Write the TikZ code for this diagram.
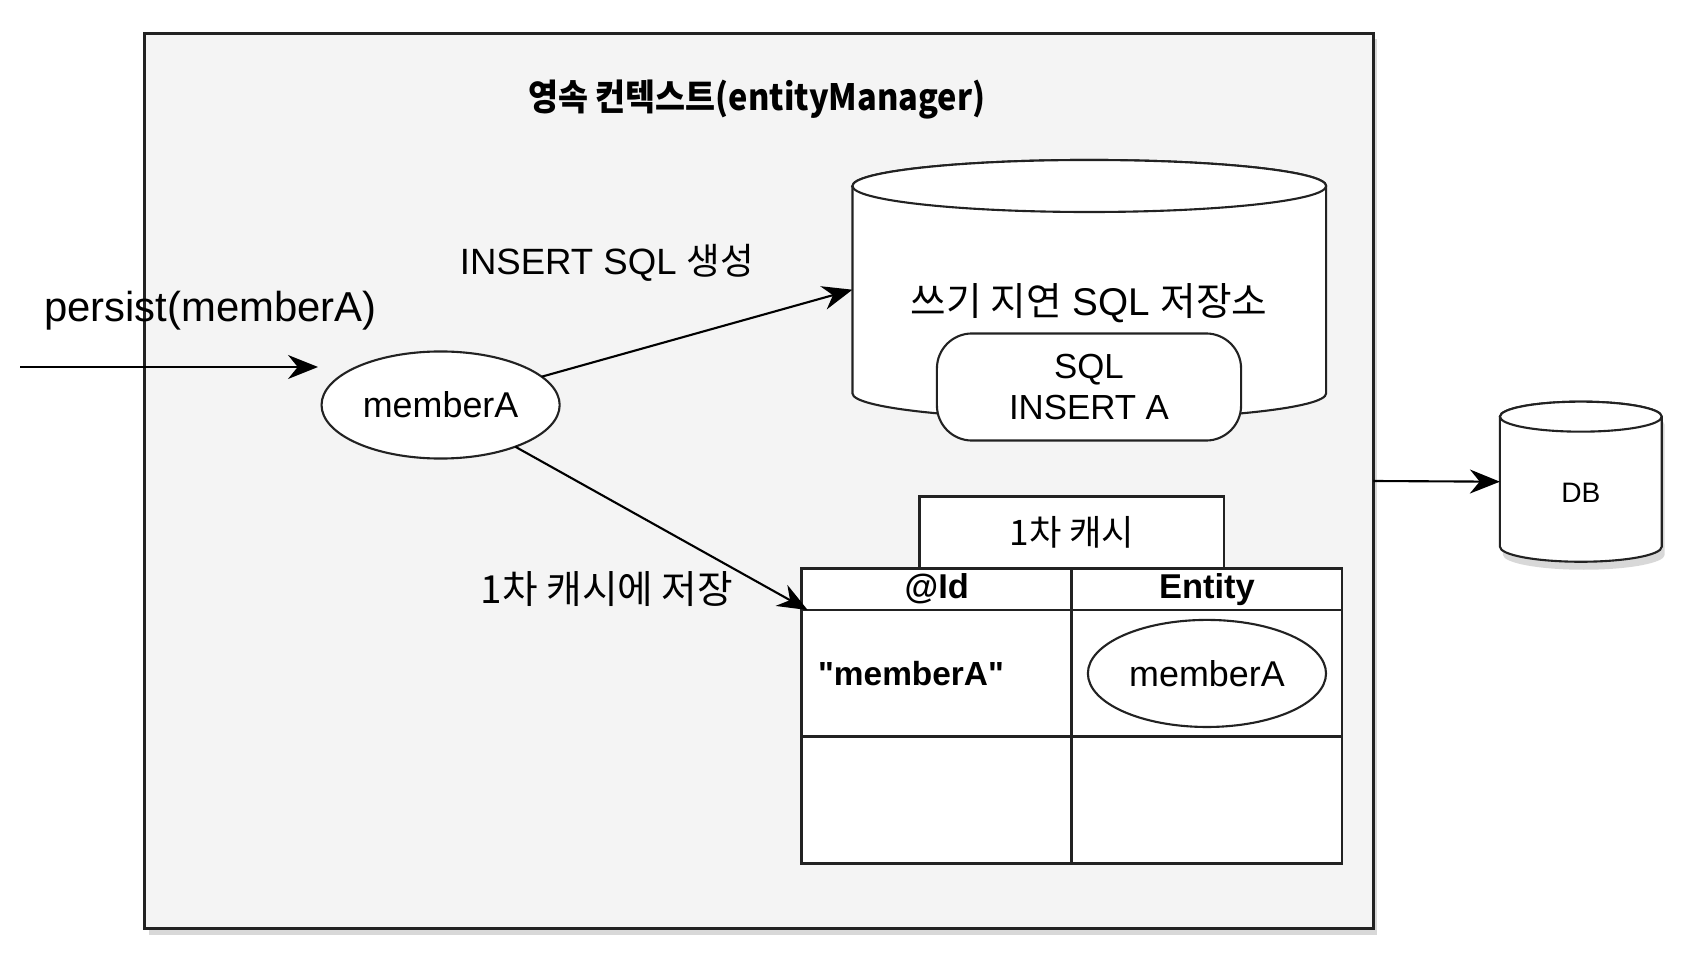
\documentclass[tikz,border=0pt]{standalone}
\usepackage{fontspec}
\setmainfont{Liberation Sans}
\newfontfamily\keyfont{Liberation Sans}
\newfontfamily\kor{Noto Sans CJK KR}
\newfontfamily\kortitle[FakeStretch=0.9]{Noto Sans CJK KR}
\usetikzlibrary{arrows.meta,positioning,shapes.geometric,shadows}
\definecolor{ctxgray}{HTML}{F4F4F4}
\definecolor{linegray}{HTML}{222222}
\tikzset{%
  >={Stealth[width=2.4mm,length=3mm]},
  % Specifications for style of nodes:
         base/.style = {rectangle, draw=linegray, line width=0.6pt,
                        fill=white, inner sep=0pt, outer sep=0pt,
                        text centered},
      context/.style = {base, line width=0.9pt, fill=ctxgray,
                        minimum width=12.28cm, minimum height=8.95cm,
                        drop shadow={shadow xshift=0.4mm,
                                     shadow yshift=-0.6mm, opacity=0.3}},
       entity/.style = {base, ellipse, minimum width=2.38cm,
                        minimum height=1.07cm,
                        font=\fontsize{10.2}{12}\selectfont},
         drum/.style = {base, draw=none},
      sqlpill/.style = {base, rounded corners=3.5mm, minimum width=3.04cm,
                        minimum height=1.07cm, align=center,
                        font=\fontsize{9.9}{11.6}\selectfont},
     cachetop/.style = {base, line width=0.8pt, minimum width=3.04cm,
                        minimum height=0.72cm},
     cellbase/.style = {base, line width=0.8pt, minimum width=2.7cm},
     headcell/.style = {cellbase, minimum height=0.417cm,
                        font=\bfseries\fontsize{9.8}{11}\selectfont},
     bodycell/.style = {cellbase, minimum height=1.267cm},
     notetext/.style = {font=\fontsize{11}{13}\selectfont},
 cylinderline/.style = {draw=linegray, line width=0.6pt, fill=white}
}
% cylinder drawn round a named body node: node, x radius, y radius
\newcommand{\drawdrum}[4][]{%
  \draw[cylinderline,#1] (#2.north west) -- (#2.south west)
    arc[start angle=180, end angle=360, x radius=#3, y radius=#4]
    -- (#2.north east)
    arc[start angle=0, end angle=180, x radius=#3, y radius=#4] -- cycle;
  \draw[cylinderline] (#2.north) ellipse [x radius=#3, y radius=#4];
}

\begin{document}
\begin{tikzpicture}[x=0.01cm, y=-0.01cm,
    every node/.style={font=\fontsize{10}{12}\selectfont}]
  \fill[white] (0,0) rectangle (1700,964);
  \useasboundingbox (0,0) rectangle (1700,964);

  \node (ctx)   [context] at (759,481) {};
  \node (title) [font=\kortitle\bfseries\fontsize{10.3}{12}\selectfont]
                at (757,100) {영속 컨텍스트(entityManager)};

  \node (member) [entity] at (440.6,405) {memberA};

  % write-behind store
  \node (store) [drum, minimum width=4.734cm, minimum height=2.073cm]
                at (1089.3,289.7) {};
  \drawdrum{store}{2.367cm}{0.26cm}
  \node (storetext) [notetext] at (1089,303) {{\kor 쓰기 지연} SQL {\kor 저장소}};
  \node (pending)   [sqlpill] at (1089,387) {SQL\\INSERT A};

  % first level cache
  \node (idhead)   [headcell] at (936.8,589.2) {@Id};
  \node (enthead)  [headcell, right=0pt of idhead] {Entity};
  \node (idcell)   [bodycell, below=0pt of idhead] {};
  \node (entcell)  [bodycell, below=0pt of enthead] {};
  \node (idfree)   [bodycell, below=0pt of idcell] {};
  \node (entfree)  [bodycell, below=0pt of entcell] {};
  \node (cachetab) [cachetop, above=0pt of idhead.north east]
                   {{\kor 1차 캐시}};
  \node (idkey)    [anchor=west, font=\keyfont\bfseries\fontsize{9.5}{11}\selectfont]
                   at ([xshift=0.4mm]idcell.west) {"memberA"};
  \node (cached)   [entity] at (entcell) {memberA};

  % database
  \node (db) [drum, minimum width=1.617cm, minimum height=1.3cm]
             at (1580.8,481.7) {};
  \drawdrum[drop shadow={shadow xshift=0.3mm, shadow yshift=-0.8mm,
                         opacity=0.3}]{db}{0.8085cm}{0.15cm}
  \node (dbtext) [font=\fontsize{8}{9}\selectfont] at ([yshift=-1.1mm]db) {DB};

  \node (gen)  [font=\fontsize{10.4}{12}\selectfont] at (607,263)
               {INSERT SQL {\kor 생성}};
  \node (call) [font=\fontsize{11.9}{14}\selectfont] at (210.4,311)
               {persist(memberA)};
  \node (save) [notetext] at (607,589) {{\kor 1차 캐시에 저장}};

  \coordinate (caller)  at (20,367);
  \coordinate (callend) at (318,367);

    \draw[->, line width=0.6pt] (caller) -- (callend);
    \draw[->, line width=0.6pt] (member) -- (store.west);
    \draw[->, line width=0.6pt] (member) -- ([xshift=0.6mm]idhead.south west);
    \draw[->, line width=0.6pt] (ctx.east) -- (db.west);
\end{tikzpicture}
\end{document}
